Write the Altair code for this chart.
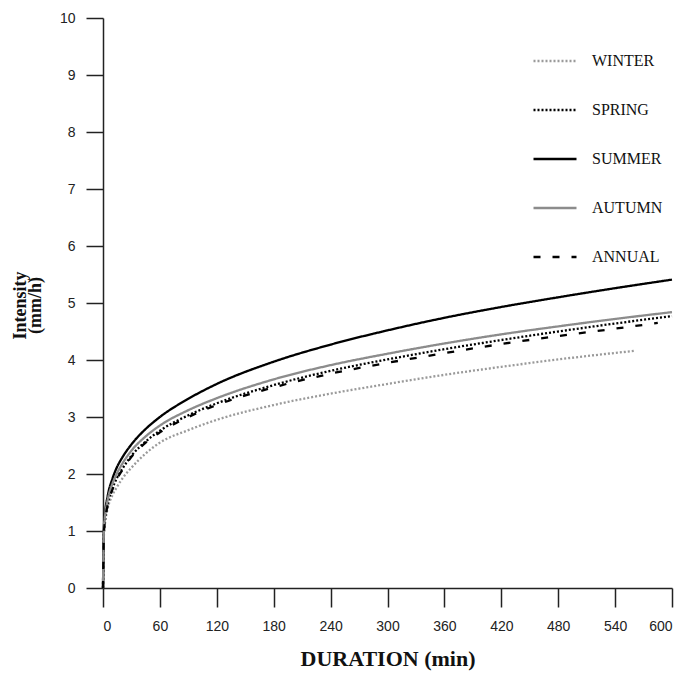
import altair as alt
import pandas as pd

# Durations (min) at which the curves were read
durations = [0, 1, 2, 5, 10, 15, 20, 30, 45, 60, 90, 120, 180, 240, 300, 360, 420, 480, 540, 600]
annual_durations = [0, 1, 2, 5, 10, 15, 20, 30, 45, 60, 90, 120, 180, 240, 300, 360, 420, 480, 540, 585]
winter_durations = [0, 1, 2, 5, 10, 15, 20, 30, 45, 60, 90, 120, 180, 240, 300, 360, 420, 480, 560]

# Intensity (mm/h)
winter = [0, 0.95, 1.12, 1.40, 1.63, 1.78, 1.91, 2.11, 2.36, 2.55, 2.77, 2.95, 3.21, 3.41, 3.58, 3.74, 3.88, 4.01, 4.16]
spring = [0, 1.00, 1.18, 1.48, 1.75, 1.94, 2.08, 2.32, 2.57, 2.76, 3.03, 3.24, 3.56, 3.81, 4.01, 4.19, 4.35, 4.50, 4.64, 4.77]
summer = [0, 1.08, 1.29, 1.62, 1.92, 2.13, 2.28, 2.52, 2.79, 3.00, 3.32, 3.58, 3.97, 4.27, 4.52, 4.74, 4.93, 5.10, 5.26, 5.41]
autumn = [0, 1.05, 1.24, 1.55, 1.83, 2.02, 2.17, 2.41, 2.66, 2.85, 3.12, 3.33, 3.66, 3.91, 4.11, 4.29, 4.45, 4.59, 4.72, 4.84]
annual = [0, 0.98, 1.16, 1.46, 1.73, 1.92, 2.06, 2.30, 2.55, 2.73, 3.00, 3.21, 3.52, 3.76, 3.95, 4.12, 4.28, 4.42, 4.55, 4.65]

series_names = ["WINTER", "SPRING", "SUMMER", "AUTUMN", "ANNUAL"]
x_ticks = [0, 60, 120, 180, 240, 300, 360, 420, 480, 540, 600]
y_ticks = [0, 1, 2, 3, 4, 5, 6, 7, 8, 9, 10]

rows = []
for name, xs, ys in [
    ("WINTER", winter_durations, winter),
    ("SPRING", durations, spring),
    ("SUMMER", durations, summer),
    ("AUTUMN", durations, autumn),
    ("ANNUAL", annual_durations, annual),
]:
    for d, v in zip(xs, ys):
        rows.append({"season": name, "duration": d, "intensity": v})
df = pd.DataFrame(rows)

colors = ["#9a9a9a", "#000000", "#000000", "#8c8c8c", "#000000"]
dashes = [[2, 2], [2, 2], [1, 0], [1, 0], [7, 12]]

chart = (
    alt.Chart(df)
    .mark_line(interpolate="monotone", strokeWidth=2.3)
    .encode(
        x=alt.X(
            "duration:Q",
            scale=alt.Scale(domain=[0, 600], nice=False, zero=False),
            axis=alt.Axis(
                values=x_ticks,
                title="DURATION (min)",
                titleFont="Liberation Serif",
                titleFontSize=22,
                titleFontWeight="bold",
                titleColor="#111111",
                titleBaseline="alphabetic",
                titleY=77,
                labelFont="Liberation Sans",
                labelFontSize=14,
                labelColor="#222222",
                labelPadding=12,
                tickSize=19,
                tickColor="#222222",
                tickWidth=1.5,
                domainColor="#222222",
                domainWidth=1.5,
                grid=False,
            ),
        ),
        y=alt.Y(
            "intensity:Q",
            scale=alt.Scale(domain=[0, 10], nice=False),
            axis=alt.Axis(
                values=y_ticks,
                title=["Intensity", "(mm/h)"],
                titleFont="Liberation Serif",
                titleFontSize=18,
                titleFontWeight="bold",
                titleColor="#111111",
                titleBaseline="alphabetic",
                titleLineHeight=15,
                titleX=-78,
                titleY=287,
                labelFont="Liberation Sans",
                labelFontSize=14,
                labelColor="#222222",
                labelPadding=11,
                tickSize=17,
                tickColor="#222222",
                tickWidth=1.5,
                domainColor="#222222",
                domainWidth=1.5,
                grid=False,
            ),
        ),
        color=alt.Color(
            "season:N",
            sort=series_names,
            scale=alt.Scale(domain=series_names, range=colors),
            legend=alt.Legend(title=None),
        ),
        strokeDash=alt.StrokeDash(
            "season:N",
            sort=series_names,
            scale=alt.Scale(domain=series_names, range=dashes),
            legend=alt.Legend(title=None),
        ),
    )
    .properties(
        width=569,
        height=570,
        autosize=alt.AutoSizeParams(type="none"),
        padding={"left": 103, "top": 18, "right": 15, "bottom": 85},
    )
    .configure_view(stroke=None)
    .configure_legend(
        orient="none",
        legendX=429,
        legendY=20,
        symbolType="stroke",
        symbolSize=1849,
        symbolStrokeWidth=2.3,
        labelFont="Liberation Serif",
        labelFontSize=16,
        labelColor="#111111",
        labelOffset=14,
        rowPadding=18,
    )
)

chart.save("out.html", embed_options={"renderer": "svg", "actions": False})
